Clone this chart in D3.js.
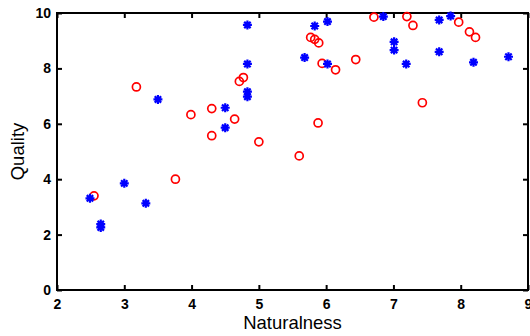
<!DOCTYPE html>
<html>
<head>
<meta charset="utf-8">
<script src="https://cdn.jsdelivr.net/npm/d3@7"></script>
<style>
  body { margin: 0; background: #fff; }
  svg { display: block; }
</style>
</head>
<body>
<div id="chart"></div>
<script>
// red circles
const natRed  = [2.55, 3.76, 3.18, 3.99, 4.30, 4.30, 4.64, 4.71, 4.77, 5.00, 5.60, 5.77, 5.83,
                 5.89, 5.88, 5.94, 6.14, 6.44, 6.71, 7.20, 7.29, 7.43, 7.97, 8.13, 8.22];
const qualRed = [3.40, 4.00, 7.33, 6.33, 6.55, 5.57, 6.17, 7.53, 7.67, 5.35, 4.84, 9.12, 9.05,
                 8.92, 6.03, 8.18, 7.95, 8.32, 9.85, 9.87, 9.55, 6.76, 9.67, 9.32, 9.12];
// blue stars
const natBlue  = [2.49, 2.65, 2.65, 3.00, 3.32, 3.50, 4.50, 4.50, 4.83, 4.83, 4.83, 4.83, 5.68,
                  5.83, 6.02, 6.02, 6.85, 7.01, 7.01, 7.19, 7.68, 7.68, 7.85, 8.19, 8.71];
const qualBlue = [3.31, 2.38, 2.26, 3.85, 3.13, 6.88, 6.58, 5.86, 9.57, 8.16, 7.16, 6.98, 8.39,
                  9.53, 9.69, 8.16, 9.87, 8.96, 8.66, 8.16, 9.75, 8.60, 9.89, 8.22, 8.42];
const xTicks = [2, 3, 4, 5, 6, 7, 8, 9];
const yTicks = [0, 2, 4, 6, 8, 10];

const W = 530, H = 336;
const margin = { top: 13, right: 2, bottom: 46, left: 57 },
  width = W - margin.left - margin.right,
  height = H - margin.top - margin.bottom;

const svg = d3.select('#chart').append('svg')
  .attr('width', W).attr('height', H)
  .append('g')
  .attr('transform', `translate(${margin.left}, ${margin.top})`);

const x = d3.scaleLinear().domain([2, 9]).range([0, width]);
const y = d3.scaleLinear().domain([0, 10]).range([height, 0]);

const font = '"Liberation Sans", Arial, sans-serif';

function styleAxis(g, labels) {
  g.select('.domain').remove();
  g.selectAll('.tick line').attr('stroke', '#000').attr('stroke-width', 2);
  g.selectAll('.tick text')
    .attr('fill', '#000')
    .attr('font-family', font).attr('font-size', '14px').attr('font-weight', 'bold');
  if (!labels) g.selectAll('.tick text').remove();
}

svg.append('g')
  .attr('transform', `translate(0, ${height})`)
  .call(d3.axisBottom(x).tickValues(xTicks).tickFormat(d3.format('d'))
    .tickSizeInner(-5).tickSizeOuter(0).tickPadding(9))
  .call(g => styleAxis(g, true));

svg.append('g')
  .call(d3.axisTop(x).tickValues(xTicks).tickSizeInner(-5).tickSizeOuter(0))
  .call(g => styleAxis(g, false));

svg.append('g')
  .call(d3.axisLeft(y).tickValues(yTicks).tickFormat(d3.format('d'))
    .tickSizeInner(-5).tickSizeOuter(0).tickPadding(6))
  .call(g => styleAxis(g, true));

svg.append('g')
  .attr('transform', `translate(${width}, 0)`)
  .call(d3.axisRight(y).tickValues(yTicks).tickSizeInner(-5).tickSizeOuter(0))
  .call(g => styleAxis(g, false));

svg.append('rect')
  .attr('x', 0).attr('y', 0)
  .attr('width', width).attr('height', height)
  .attr('fill', 'none').attr('stroke', '#000').attr('stroke-width', 2);

svg.append('text')
  .attr('x', width / 2).attr('y', height + 39)
  .attr('font-family', font).attr('font-size', '18.5px')
  .attr('text-anchor', 'middle')
  .text('Naturalness');

svg.append('text')
  .attr('transform', `translate(${-33}, ${height / 2}) rotate(-90)`)
  .attr('font-family', font).attr('font-size', '18.5px')
  .attr('text-anchor', 'middle')
  .text('Quality');

const red = natRed.map((d, i) => ({ x: d, y: qualRed[i] }));
const blue = natBlue.map((d, i) => ({ x: d, y: qualBlue[i] }));

svg.selectAll('circle.red')
  .data(red)
  .enter()
  .append('circle')
  .attr('class', 'red')
  .attr('cx', d => x(d.x)).attr('cy', d => y(d.y))
  .attr('r', 4)
  .attr('fill', 'none').attr('stroke', '#ff0000').attr('stroke-width', 1.7);

const s = 4.5, t = 3.2;
const starPath = `M${-s},0L${s},0M0,${-s}L0,${s}M${-t},${-t}L${t},${t}M${-t},${t}L${t},${-t}`;

svg.selectAll('path.blue')
  .data(blue)
  .enter()
  .append('path')
  .attr('class', 'blue')
  .attr('transform', d => `translate(${x(d.x)}, ${y(d.y)})`)
  .attr('d', starPath)
  .attr('fill', 'none').attr('stroke', '#0000ff').attr('stroke-width', 2.2);
</script>
</body>
</html>
